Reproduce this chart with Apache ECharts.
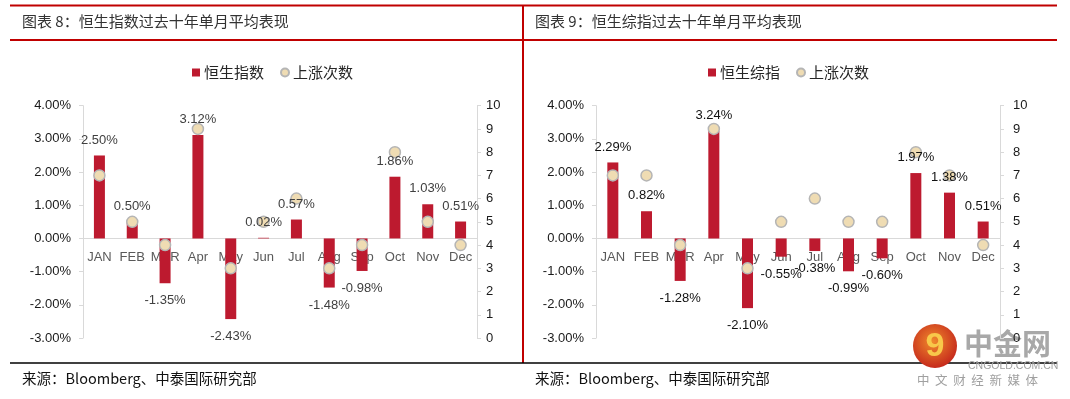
<!DOCTYPE html>
<html>
<head>
<meta charset="utf-8">
<script src="https://cdn.jsdelivr.net/npm/echarts@6/dist/echarts.min.js"></script>
<style>
  html, body { margin: 0; padding: 0; background: #fff; }
  #chart { width: 1070px; height: 399px; }
</style>
</head>
<body>
<div id="chart"></div>
<script>
// data
const months = ['JAN', 'FEB', 'MAR', 'Apr', 'May', 'Jun', 'Jul', 'Aug', 'Sep', 'Oct', 'Nov', 'Dec'];
const hsiAvg = [2.50, 0.50, -1.35, 3.12, -2.43, 0.02, 0.57, -1.48, -0.98, 1.86, 1.03, 0.51];
const hsiUps = [7, 5, 4, 9, 3, 5, 6, 3, 4, 8, 5, 4];
const hsciAvg = [2.29, 0.82, -1.28, 3.24, -2.10, -0.55, -0.38, -0.99, -0.60, 1.97, 1.38, 0.51];
const hsciUps = [7, 7, 4, 9, 3, 5, 6, 5, 5, 8, 7, 4];
const pctTicks = { min: -3, max: 4, interval: 1 };
const countTicks = { min: 0, max: 10, interval: 1 };
const barNames = ['恒生指数', '恒生综指'];
const dotName = '上涨次数';
const titles = ['图表 8：恒生指数过去十年单月平均表现', '图表 9：恒生综指过去十年单月平均表现'];
const source = '来源：Bloomberg、中泰国际研究部';

const RED = '#bd1a2f';
const AXIS = '#d9d9d9';
const LATIN = '"Liberation Sans", Arial, sans-serif';
const CJK = '"Noto Sans CJK SC", sans-serif';

const chart = echarts.init(document.getElementById('chart'));

const grids = [
  { left: 83, right: 593, top: 105.7, bottom: 61 },
  { left: 596, right: 70, top: 105.7, bottom: 61 }
];
const gridHeight = 399 - 105.7 - 61;
// the category axis sits on the 0% line, labels just below it
const zeroOffset = -gridHeight * (0 - pctTicks.min) / (pctTicks.max - pctTicks.min);

function barData(vals) {
  return vals.map(v => v < 0 ? { value: v, label: { position: 'bottom', distance: 11 } } : v);
}

const xAxes = [];
const yAxes = [];
const series = [];
const legends = [];

[0, 1].forEach(i => {
  const avg = i === 0 ? hsiAvg : hsciAvg;
  xAxes.push({
    type: 'category',
    gridIndex: i,
    data: months,
    position: 'bottom',
    offset: zeroOffset,
    axisLine: { onZero: false, lineStyle: { color: AXIS, width: 1 } },
    axisTick: { show: false },
    axisLabel: { interval: 0, color: '#595959', fontSize: 13, fontFamily: LATIN, margin: 12 }
  });
  yAxes.push({
    type: 'value',
    gridIndex: i,
    position: 'left',
    min: pctTicks.min,
    max: pctTicks.max,
    interval: pctTicks.interval,
    axisLine: { show: true, lineStyle: { color: AXIS } },
    axisTick: { show: true, length: 4, lineStyle: { color: AXIS } },
    splitLine: { show: false },
    axisLabel: {
      color: '#1a1a1a', fontSize: 13, fontFamily: LATIN, margin: 12,
      formatter: v => v.toFixed(2) + '%'
    }
  });
  yAxes.push({
    type: 'value',
    gridIndex: i,
    position: 'right',
    min: countTicks.min,
    max: countTicks.max,
    interval: countTicks.interval,
    axisLine: { show: true, lineStyle: { color: AXIS } },
    axisTick: { show: true, length: 4, lineStyle: { color: AXIS } },
    splitLine: { show: false },
    axisLabel: { color: '#1a1a1a', fontSize: 13, fontFamily: LATIN, margin: i === 0 ? 9 : 13 }
  });
  series.push({
    name: barNames[i],
    type: 'bar',
    xAxisIndex: i,
    yAxisIndex: i * 2,
    data: avg,
    barWidth: 11,
    itemStyle: { color: RED },
    z: 2,
    animation: false
  });
  series.push({
    name: dotName,
    type: 'scatter',
    xAxisIndex: i,
    yAxisIndex: i * 2 + 1,
    data: i === 0 ? hsiUps : hsciUps,
    symbol: 'circle',
    symbolSize: 11,
    itemStyle: { color: '#efdcb3', borderColor: '#b5b5b5', borderWidth: 1.5, opacity: 1 },
    z: 3,
    animation: false
  });
  // value labels drawn on top of the dots, as in the source
  series.push({
    name: barNames[i] + '-label',
    type: 'bar',
    xAxisIndex: i,
    yAxisIndex: i * 2,
    data: barData(avg),
    barWidth: 11,
    barGap: '-100%',
    itemStyle: { color: 'rgba(0,0,0,0)' },
    label: {
      show: true,
      position: 'top',
      distance: 9,
      color: i === 0 ? '#404040' : '#111',
      fontSize: 13,
      fontFamily: LATIN,
      formatter: p => p.value.toFixed(2) + '%'
    },
    silent: true,
    z: 4,
    animation: false
  });
  legends.push({
    left: i === 0 ? 187 : 703,
    top: 60,
    itemWidth: 8,
    itemHeight: 8,
    itemGap: 16,
    data: [{ name: barNames[i], icon: 'rect' }, { name: dotName, icon: 'circle' }],
    textStyle: { color: '#262626', fontSize: 15, fontFamily: CJK, padding: [0, 0, 0, -1] }
  });
});

const graphic = [
  // frame
  { type: 'line', shape: { x1: 10, y1: 5.5, x2: 1057, y2: 5.5 }, style: { stroke: '#c00000', lineWidth: 2 } },
  { type: 'line', shape: { x1: 10, y1: 40, x2: 1057, y2: 40 }, style: { stroke: '#c00000', lineWidth: 2 } },
  { type: 'line', shape: { x1: 523, y1: 5, x2: 523, y2: 363 }, style: { stroke: '#c00000', lineWidth: 2 } },
  { type: 'line', shape: { x1: 10, y1: 363, x2: 1057, y2: 363 }, style: { stroke: '#000', lineWidth: 1.5 } },
  // titles
  { type: 'text', left: 22, top: 14, style: { text: titles[0], fill: '#333', font: '15px ' + CJK } },
  { type: 'text', left: 535, top: 14, style: { text: titles[1], fill: '#333', font: '15px ' + CJK } },
  // source notes
  { type: 'text', left: 22, top: 371, style: { text: source, fill: '#111', font: '14.5px ' + CJK } },
  { type: 'text', left: 535, top: 371, style: { text: source, fill: '#111', font: '14.5px ' + CJK } },
  // watermark logo
  {
    type: 'circle', shape: { cx: 935, cy: 346, r: 22 },
    style: {
      fill: new echarts.graphic.RadialGradient(0.45, 0.4, 0.6, [
        { offset: 0, color: '#f08a2c' }, { offset: 1, color: '#c62a1c' }
      ])
    }
  },
  { type: 'text', x: 935, y: 347, style: { text: '9', fill: '#f8c84a', font: 'bold 34px ' + LATIN, align: 'center', verticalAlign: 'middle' } },
  { type: 'text', left: 964, top: 329, style: { text: '中金网', fill: '#a8a8a8', font: 'bold 29px ' + CJK } },
  { type: 'text', left: 968, top: 361, style: { text: 'CNGOLD.COM.CN', fill: '#a0a0a0', font: '10.5px ' + LATIN } },
  { type: 'text', left: 917, top: 374, style: { text: '中  文  财  经  新  媒  体', fill: '#a0a0a0', font: '12.5px ' + CJK } }
];

chart.setOption({
  animation: false,
  grid: grids,
  xAxis: xAxes,
  yAxis: yAxes,
  legend: legends,
  series: series,
  graphic: graphic
});
</script>
</body>
</html>
